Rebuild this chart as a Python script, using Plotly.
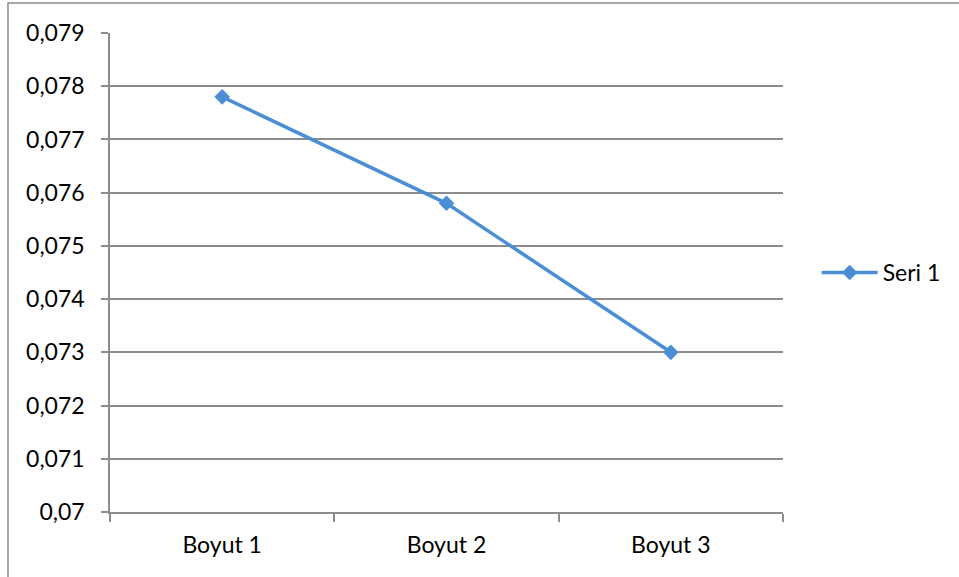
import plotly.graph_objects as go

# Series data
categories = ["Boyut 1", "Boyut 2", "Boyut 3"]
seri_1 = [0.0778, 0.0758, 0.0730]

# Y-axis ticks (comma decimal labels)
y_tick_values = [0.070, 0.071, 0.072, 0.073, 0.074, 0.075, 0.076, 0.077, 0.078, 0.079]
y_tick_labels = ["0,07", "0,071", "0,072", "0,073", "0,074", "0,075", "0,076", "0,077", "0,078", "0,079"]

LINE_BLUE = "#4B8ED6"
GRID = "#8C8C8C"
FONT = "Lato, 'Open Sans', sans-serif"
FSIZE = 23

fig = go.Figure()
fig.add_trace(go.Scatter(
    x=categories,
    y=seri_1,
    mode="lines+markers",
    name="Seri 1",
    line=dict(color=LINE_BLUE, width=3.5),
    marker=dict(symbol="diamond", size=12, color=LINE_BLUE),
))

# Outer chart frame
fig.add_shape(
    type="rect", xref="paper", yref="paper",
    x0=-0.1516, x1=1.5, y0=-0.3, y1=1.0626,
    line=dict(color="#8C8C8C", width=1.5),
    fillcolor="rgba(0,0,0,0)", layer="below",
)

fig.update_layout(
    width=959,
    height=577,
    margin=dict(l=110, r=176, t=33, b=65),
    paper_bgcolor="white",
    plot_bgcolor="white",
    font=dict(family=FONT, size=FSIZE, color="#000000"),
    showlegend=True,
    legend=dict(
        x=1.05, xanchor="left",
        y=0.5, yanchor="middle",
        font=dict(family=FONT, size=FSIZE, color="#000000"),
        bgcolor="rgba(0,0,0,0)",
        itemwidth=56,
    ),
    xaxis=dict(
        type="category",
        range=[-0.5, 2.5],
        showgrid=False,
        showline=True,
        linecolor=GRID,
        linewidth=1.5,
        ticks="outside",
        tickson="boundaries",
        ticklen=8,
        tickcolor=GRID,
        tickwidth=1.5,
        tickfont=dict(family=FONT, size=FSIZE),
        ticklabelstandoff=12,
    ),
    yaxis=dict(
        range=[0.070, 0.079],
        tickvals=y_tick_values,
        ticktext=y_tick_labels,
        showgrid=True,
        gridcolor=GRID,
        gridwidth=1.5,
        showline=True,
        linecolor=GRID,
        linewidth=1.5,
        ticks="outside",
        ticklen=7,
        tickcolor=GRID,
        tickwidth=1.5,
        tickfont=dict(family=FONT, size=FSIZE),
        ticklabelstandoff=12,
        zeroline=False,
    ),
)

fig.write_html("out.html")
